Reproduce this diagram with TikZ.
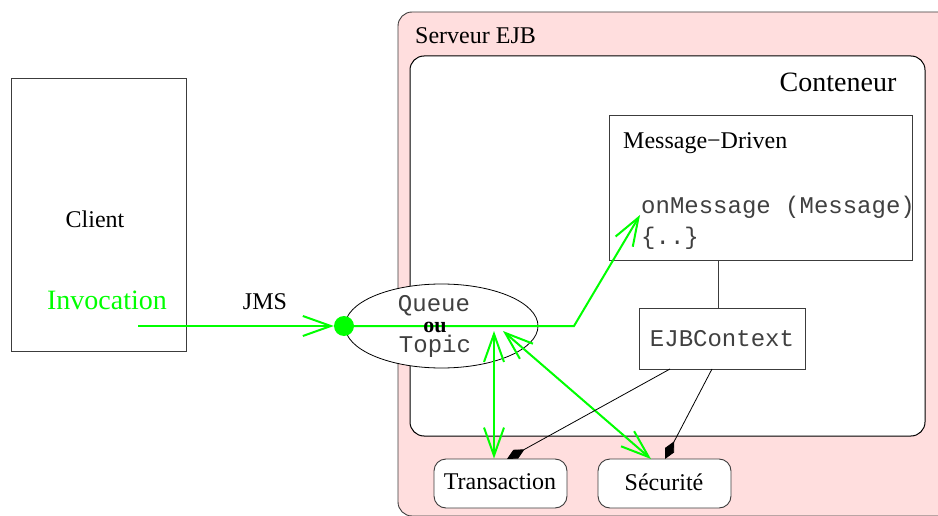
\documentclass[tikz,border=0pt]{standalone}
\usepackage{fontspec}
\setmainfont{Liberation Serif}
\setmonofont{Liberation Mono}
\usetikzlibrary{arrows.meta,shapes.geometric}
\definecolor{pinkbg}{RGB}{255,222,222}
\definecolor{jmsgreen}{RGB}{0,255,0}
\definecolor{edge}{RGB}{60,60,60}
\tikzset{
  box/.style={draw=edge,line width=0.9pt,fill=white,inner sep=0pt},
  rbox/.style={box,rounded corners=12pt},
  txt/.style={inner sep=0pt,font=\fontsize{24}{28}\selectfont},
  bigtxt/.style={inner sep=0pt,font=\fontsize{28}{32}\selectfont},
  mono/.style={inner sep=0pt,font=\fontsize{24}{28}\ttfamily,text=black!75},
  flow/.style={draw=jmsgreen,line width=2pt},
  barb/.tip={Straight Barb[length=28pt,width=20pt,line width=2pt]},
  flowarrow/.style={flow,-barb},
  flowboth/.style={flow,barb-barb},
  link/.style={draw=black,line width=0.8pt,-{Diamond[length=20pt,width=10pt]}},
}
\begin{document}
\begin{tikzpicture}[x=1pt,y=-1pt]
\useasboundingbox (0,0) rectangle (938,516);
\clip (0,0) rectangle (938,516);
% Serveur EJB
\draw[draw=edge,line width=0.9pt,fill=pinkbg,rounded corners=14pt] (398,12) rectangle (960,516);
\node[txt,anchor=west] (serveur) at (415,36) {Serveur EJB};
% Conteneur
\draw[draw=black,line width=1pt,fill=white,rounded corners=14pt] (410,56) rectangle (925,436);
\node[bigtxt] (conteneur) at (838,82) {Conteneur};
% Client
\node[box,minimum width=175pt,minimum height=273pt] (client) at (98.5,214.5) {};
\node[txt] (clientlbl) at (95,219) {Client};
\node[bigtxt,text=jmsgreen] (invocation) at (107,300) {Invocation};
\node[txt] (jms) at (265,302) {JMS};
% Message-Driven
\node[box,minimum width=303pt,minimum height=145pt] (md) at (760.5,187.5) {};
\node[txt,anchor=west] (mdlbl) at (623,143) {Message−Driven};
\node[mono,anchor=west] (onmsg) at (641,207) {onMessage (Message)};
\node[mono,anchor=west] (braces) at (641,238) {\{..\}};
% EJBContext
\node[box,minimum width=166pt,minimum height=61pt] (ctx) at (722,338.5) {};
\node[mono] (ctxlbl) at (722,339) {EJBContext};
\draw[draw=edge,line width=0.9pt] (md.south -| 718,0) -- (ctx.north -| 718,0);
% Queue ellipse
\node[ellipse,draw=black,line width=0.8pt,fill=white,minimum width=193pt,minimum height=84pt,inner sep=0pt] (queue) at (441.5,326) {};
\node[mono] (qq) at (434,306) {Queue};
\node[mono] (qt) at (435,346) {Topic};
% Transaction, Securite
\node[rbox,minimum width=133pt,minimum height=49pt] (trans) at (500.5,483.5) {};
\node[txt] (translbl) at (500,482) {Transaction};
\node[rbox,minimum width=133pt,minimum height=49pt] (secu) at (664.5,483.5) {};
\node[txt] (seculbl) at (664,482) {Sécurité};
% green flow
\coordinate (start) at (138,326);
\node[circle,fill=jmsgreen,minimum size=20pt,inner sep=0pt] (dot) at (344,326) {};
\draw[flowarrow] (start) -- (dot.west);
\coordinate (bend) at (574,326);
\coordinate (target) at (640,215);
\draw[flowarrow] (dot.center) -- (bend) -- (target);
\node[txt,font=\fontsize{22}{24}\selectfont\bfseries] (ou) at (435,327) {ou};
\coordinate (qa) at (494,331);
\coordinate (qb) at (503,331);
\draw[flowboth] (qa) -- (trans.north -| qa);
\draw[flowboth] (qb) -- (651,459);
% context links
\coordinate (c1) at (670,369);
\coordinate (c2) at (712,369);
\draw[link] (c1) -- (507,459);
\draw[link] (c2) -- (665,459);
\end{tikzpicture}
\end{document}
